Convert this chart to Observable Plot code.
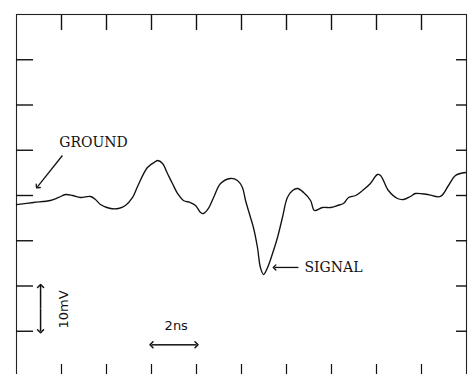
<!DOCTYPE html>
<html>
<head>
<meta charset="utf-8">
<script src="https://cdn.jsdelivr.net/npm/d3@7"></script>
<script src="https://cdn.jsdelivr.net/npm/@observablehq/plot@0.6"></script>
<style>
  html, body { margin: 0; padding: 0; background: #fff; overflow: hidden; }
  #chart svg { display: block; }
</style>
</head>
<body>
<div id="chart"></div>
<script>
// Oscilloscope trace: time in ns (2 ns/div), amplitude in mV (10 mV/div)
const timeNs = [
  0, 0.76, 1.51, 1.87, 2.18, 2.49, 2.84, 3.29, 3.51, 3.73, 4.18, 4.53, 4.84, 5.16, 5.38,
  5.82, 6.18, 6.27, 6.49, 6.71, 6.93, 7.16, 7.42, 7.73, 7.96, 8.18, 8.31, 8.53, 8.76,
  9.07, 9.51, 9.82, 10.04, 10.18, 10.40, 10.53, 10.71, 10.84, 10.98, 11.16, 11.38,
  11.60, 11.82, 12.04, 12.27, 12.49, 12.76, 13.07, 13.24, 13.60, 13.96, 14.27, 14.53,
  14.76, 15.07, 15.38, 15.73, 16.04, 16.18, 16.53, 16.93, 17.20, 17.51, 17.73, 18.27,
  18.84, 19.20, 19.51, 19.96
];
const voltageMv = [
  -2.0, -1.55, -1.1, -0.44, 0.22, 0, -0.44, -0.22, -0.88, -1.99, -2.87, -2.87, -2.21, -0.44, 1.99,
  6.19, 7.51, 7.73, 7.07, 4.86, 2.65, 0.44, -1.1, -1.55, -2.21, -3.76, -3.98, -2.87, -0.44,
  2.65, 3.76, 3.31, 1.77, -1.1, -4.86, -7.07, -11.49, -15.91, -17.46, -15.91, -12.82,
  -9.28, -4.86, -0.44, 1.1, 1.55, 0.66, -1.1, -3.31, -2.65, -2.65, -2.21, -1.77,
  -0.44, 0, 1.1, 2.65, 4.64, 4.42, 1.1, -0.66, -0.88, -0.22, 0.44, 0.22,
  -0.22, 2.21, 4.42, 5.08
];

// Graticule divisions
const timeTicks = [2, 4, 6, 8, 10, 12, 14, 16, 18];
const voltTicks = [-30, -20, -10, 0, 10, 20, 30];

// Labels and scale bars
const labelText = ["GROUND", "SIGNAL"];
const timeBar = [6, 8];      // one division = 2 ns
const voltBar = [-20, -30];  // one division = 10 mV

const trace = timeNs.map((t, i) => ({t, v: voltageMv[i]}));

// Double-headed scale bars: two halves drawn outward from the middle
const timeMid = (timeBar[0] + timeBar[1]) / 2;
const voltMid = (voltBar[0] + voltBar[1]) / 2;
const timeHalves = timeBar.map(end => ({x1: timeMid, x2: end, y1: -33, y2: -33}));
const voltHalves = voltBar.map(end => ({x1: 1.07, x2: 1.07, y1: voltMid, y2: end}));

const serif = "'DejaVu Serif', serif";
const sans = "'DejaVu Sans', 'Liberation Sans', sans-serif";

const chart = Plot.plot({
  width: 472,
  height: 390,
  marginTop: 14,
  marginLeft: 16,
  marginRight: 6,
  marginBottom: 14,
  x: {domain: [0, 20]},
  y: {domain: [-40, 40]},
  marks: [
    Plot.frame({stroke: "#222", strokeWidth: 1.1}),
    Plot.axisX(timeTicks, {anchor: "top", tickSize: -15, tickFormat: () => "", label: null, stroke: "#111", strokeWidth: 1.4}),
    Plot.axisX(timeTicks, {anchor: "bottom", tickSize: -12, tickFormat: () => "", label: null, stroke: "#111", strokeWidth: 1.2}),
    Plot.axisY(voltTicks, {anchor: "left", tickSize: -17, tickFormat: () => "", label: null, stroke: "#111", strokeWidth: 1.4}),
    Plot.axisY(voltTicks, {anchor: "right", tickSize: -11, tickFormat: () => "", label: null, stroke: "#111", strokeWidth: 1.4}),
    Plot.line(trace, {x: "t", y: "v", curve: "catmull-rom", stroke: "#111", strokeWidth: 1.35}),
    // GROUND annotation
    Plot.text([labelText[0]], {x: 3.42, y: 11.6, text: d => d, fontFamily: serif, fontSize: 14, fill: "#111", letterSpacing: 0.8}),
    Plot.link([0], {x1: 2.04, y1: 8.84, x2: 0.93, y2: 1.9, markerEnd: "arrow", stroke: "#111", strokeWidth: 1.3}),
    // SIGNAL annotation
    Plot.text([labelText[1]], {x: 12.8, y: -15.9, text: d => d, textAnchor: "start", fontFamily: serif, fontSize: 14, fill: "#111", letterSpacing: 1.6}),
    Plot.link([0], {x1: 12.53, y1: -15.9, x2: 11.47, y2: -15.9, markerEnd: "arrow", stroke: "#111", strokeWidth: 1.3}),
    // 10 mV scale bar
    Plot.link(voltHalves, {x1: "x1", y1: "y1", x2: "x2", y2: "y2", markerEnd: "arrow", stroke: "#111", strokeWidth: 1.5}),
    Plot.text(["10mV"], {x: 2.09, y: -25.2, text: d => d, rotate: -90, fontFamily: sans, fontSize: 13, fill: "#111"}),
    // 2 ns scale bar
    Plot.link(timeHalves, {x1: "x1", y1: "y1", x2: "x2", y2: "y2", markerEnd: "arrow", stroke: "#111", strokeWidth: 1.5}),
    Plot.text(["2ns"], {x: 7.1, y: -28.7, text: d => d, fontFamily: sans, fontSize: 13, fill: "#111"})
  ]
});

document.getElementById("chart").append(chart);
</script>
</body>
</html>
